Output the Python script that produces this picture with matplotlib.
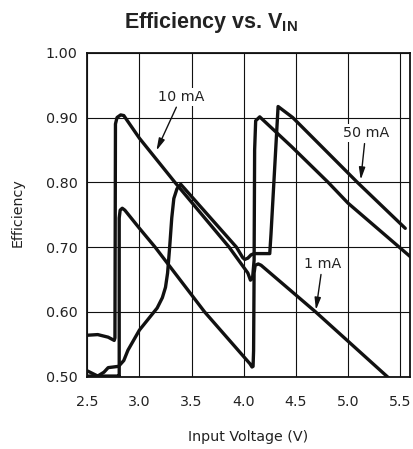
import matplotlib
matplotlib.use("Agg")
import matplotlib.pyplot as plt

# ------------------------------------------------------------------ data
# curves (Vin in V, efficiency as fraction)
vin_1ma = [2.50, 2.80, 2.806, 2.806, 2.815, 2.835, 2.86, 3.00, 3.15, 3.625,
           4.06, 4.08, 4.09, 4.095, 4.10, 4.11, 4.14, 4.167, 4.69, 5.378, 5.40]
eff_1ma = [0.501, 0.501, 0.50, 0.745, 0.757, 0.760, 0.757, 0.729, 0.700, 0.600,
           0.520, 0.515, 0.516, 0.540, 0.660, 0.672, 0.674, 0.672, 0.600, 0.500, 0.497]

vin_10ma = [2.50, 2.60, 2.70, 2.758, 2.765, 2.770, 2.785, 2.82, 2.85, 3.00,
            3.34, 3.86, 4.04, 4.065, 4.085, 4.10, 4.105, 4.115, 4.154, 4.46,
            4.81, 5.00, 5.60]
eff_10ma = [0.564, 0.565, 0.561, 0.556, 0.560, 0.890, 0.900, 0.904, 0.903, 0.868,
            0.800, 0.700, 0.660, 0.649, 0.652, 0.680, 0.850, 0.895, 0.901, 0.855,
            0.800, 0.768, 0.685]

vin_50ma = [2.50, 2.60, 2.66, 2.70, 2.80, 2.85, 2.89, 3.00, 3.10, 3.17, 3.22,
            3.25, 3.27, 3.29, 3.31, 3.33, 3.36, 3.396, 3.93, 3.99, 4.01, 4.04,
            4.07, 4.10, 4.25, 4.262, 4.30, 4.33, 4.47, 5.09, 5.55]
eff_50ma = [0.509, 0.501, 0.507, 0.514, 0.516, 0.525, 0.541, 0.572, 0.592, 0.606,
            0.622, 0.638, 0.660, 0.700, 0.745, 0.775, 0.790, 0.797, 0.700, 0.684,
            0.681, 0.683, 0.688, 0.690, 0.690, 0.720, 0.830, 0.917, 0.900, 0.800,
            0.729]

x_ticks = [2.5, 3.0, 3.5, 4.0, 4.5, 5.0, 5.5]
y_ticks = [0.50, 0.60, 0.70, 0.80, 0.90, 1.00]

# label text, label position, arrow tip
labels = [
    ("10 mA", (3.40, 0.932), (3.163, 0.849)),
    ("50 mA", (5.17, 0.876), (5.123, 0.804)),
    ("1 mA", (4.756, 0.674), (4.693, 0.603)),
]

# ------------------------------------------------------------------ plot
plt.rcParams["font.family"] = ["DejaVu Sans"]
plt.rcParams["mathtext.fontset"] = "custom"
plt.rcParams["mathtext.bf"] = "Liberation Sans:bold"
plt.rcParams["mathtext.rm"] = "Liberation Sans"

fig = plt.figure(figsize=(4.14, 4.49), dpi=100)
ax = fig.add_axes([0.2109, 0.1610, 0.9915 - 0.2109, 0.8826 - 0.1610])

ink = "#111111"
for v, e in [(vin_1ma, eff_1ma), (vin_10ma, eff_10ma), (vin_50ma, eff_50ma)]:
    ax.plot(v, e, color=ink, lw=2.4, solid_joinstyle="round",
            solid_capstyle="round", zorder=3)

ax.set_xlim(2.5, 5.6)
ax.set_ylim(0.5, 1.0)
ax.set_xticks(x_ticks)
ax.set_yticks(y_ticks)
ax.set_xticklabels([f"{t:.1f}" for t in x_ticks])
ax.set_yticklabels([f"{t:.2f}" for t in y_ticks])
ax.tick_params(length=0, labelsize=10.3, colors="#222222")
ax.tick_params(axis="x", pad=13)
ax.tick_params(axis="y", pad=7)
ax.grid(True, color=ink, lw=0.8)
ax.set_axisbelow(True)
for s in ax.spines.values():
    s.set_linewidth(1.3)
    s.set_color(ink)

for text, xy_text, xy_tip in labels:
    ax.annotate(text, xy=xy_tip, xytext=xy_text, ha="center", va="center",
                fontsize=10.3, color="#222222", zorder=4,
                bbox=dict(boxstyle="square,pad=0.15", fc="white", ec="none"),
                arrowprops=dict(arrowstyle="-|>,head_length=0.7,head_width=0.18",
                                color=ink, lw=1.0, shrinkA=1, shrinkB=0))

fig.text(0.51, 0.951, r"Efficiency vs. V$_{\mathbf{IN}}$", ha="center",
         va="center", fontsize=15.5, fontweight="bold",
         family="Liberation Sans", color="#222222")
fig.text(0.6, 1 - 437 / 449, "Input Voltage (V)", ha="center", va="center",
         fontsize=10.3, color="#222222")
fig.text(18 / 414, 1 - 213 / 449, "Efficiency", ha="center", va="center",
         rotation=90, fontsize=10.3, color="#222222")

fig.savefig("out.png", dpi=100)
